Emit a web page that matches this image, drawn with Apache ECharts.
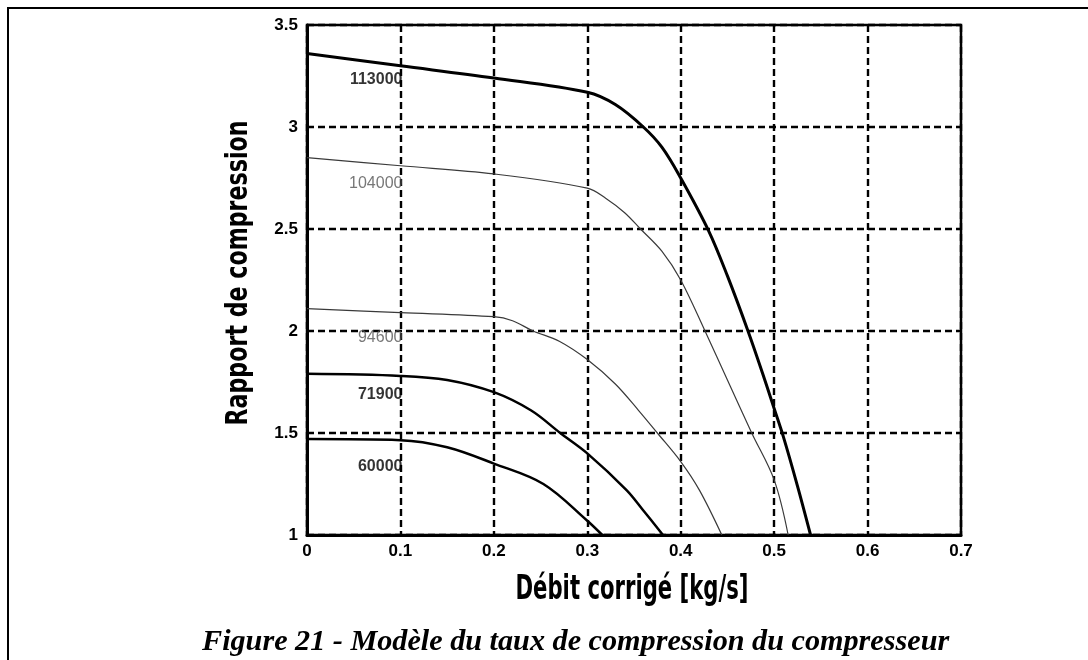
<!DOCTYPE html>
<html>
<head>
<meta charset="utf-8">
<script src="https://cdn.jsdelivr.net/npm/echarts@6/dist/echarts.min.js"></script>
<style>
html,body{margin:0;padding:0;background:#fff;}
#chart{width:1088px;height:660px;}
</style>
</head>
<body>
<div id="chart"></div>
<script>
// ---- data ----
const xTicks = ['0','0.1','0.2','0.3','0.4','0.5','0.6','0.7'];
const yTicks = ['1','1.5','2','2.5','3','3.5'];
const speedNames = ['113000','104000','94600','71900','60000'];
const curve113000 = [[0,3.36],[0.1,3.30],[0.2,3.24],[0.3,3.17],[0.33,3.11],[0.36,3.0],[0.38,2.90],[0.40,2.75],[0.43,2.49],[0.45,2.27],[0.472,2.0],[0.49,1.76],[0.5,1.62],[0.51,1.48],[0.525,1.24],[0.539,1.0]];
const curve104000 = [[0,2.85],[0.1,2.81],[0.2,2.77],[0.3,2.70],[0.32,2.65],[0.34,2.58],[0.357,2.5],[0.38,2.39],[0.4,2.25],[0.426,2.0],[0.45,1.76],[0.476,1.5],[0.5,1.27],[0.515,1.0]];
const curve94600 = [[0,2.11],[0.1,2.09],[0.2,2.07],[0.22,2.05],[0.242,2.0],[0.27,1.95],[0.3,1.86],[0.33,1.74],[0.355,1.61],[0.375,1.5],[0.4,1.36],[0.42,1.22],[0.444,1.0]];
const curve71900 = [[0,1.79],[0.1,1.78],[0.15,1.76],[0.2,1.70],[0.24,1.61],[0.271,1.5],[0.3,1.40],[0.342,1.22],[0.36,1.12],[0.381,1.0]];
const curve60000 = [[0,1.47],[0.1,1.465],[0.15,1.43],[0.2,1.35],[0.253,1.25],[0.3,1.07],[0.316,1.0]];
const labelX = [0.1,0.1,0.1,0.1,0.1];
const labelY = [3.23,2.725,1.97,1.686,1.333];
const xTitle = 'Débit corrigé [kg/s]';
const yTitle = 'Rapport de compression';
const caption = 'Figure 21 - Modèle du taux de compression du compresseur';

// ---- helpers ----
const ctx = document.createElement('canvas').getContext('2d');
function measure(text, font){ ctx.font = font; return ctx.measureText(text).width; }
const titleFamily = '"Liberation Sans Narrow","DejaVu Sans Condensed","Liberation Sans",sans-serif';
const xTitleFont = 'bold 34px ' + titleFamily;
const yTitleFont = 'bold 31px ' + titleFamily;
const xTitleScale = 233 / measure(xTitle, xTitleFont);
const yTitleScale = 305 / measure(yTitle, yTitleFont);
const capFamily = '"Liberation Serif","Times New Roman",serif';
const capSize = 30 * 748 / measure(caption, 'italic bold 30px ' + capFamily);

const styles = [
  {color:'#000', width:3},
  {color:'#3a3a3a', width:1.2},
  {color:'#3a3a3a', width:1.2},
  {color:'#000', width:2.5},
  {color:'#000', width:2.5}
];
const curves = [curve113000, curve104000, curve94600, curve71900, curve60000];
const labelStyles = [
  {color:'#000', fontWeight:'bold', fontSize:16},
  {color:'#555', fontWeight:'normal', fontSize:16},
  {color:'#555', fontWeight:'normal', fontSize:16},
  {color:'#000', fontWeight:'bold', fontSize:16},
  {color:'#000', fontWeight:'bold', fontSize:16}
];

const series = curves.map((c, i) => ({
  name: speedNames[i],
  type: 'line',
  data: c,
  showSymbol: false,
  smooth: 0.35,
  lineStyle: styles[i],
  silent: true,
  z: 5
}));
series.push({
  type: 'scatter',
  symbolSize: 0,
  data: labelX.map((x, i) => ({value:[x, labelY[i]], name: speedNames[i],
    label: Object.assign({show:true, position:'left', distance:-2, formatter:'{b}',
      fontFamily:'"Liberation Sans",Arial,sans-serif'}, labelStyles[i])})),
  silent: true,
  z: 6
});

const chart = echarts.init(document.getElementById('chart'), null, {renderer:'canvas'});
chart.setOption({
  backgroundColor: '#fff',
  animation: false,
  grid: {left:307, right:127, top:25, bottom:125, show:true, borderColor:'#000', borderWidth:2.5, backgroundColor:'transparent'},
  xAxis: {
    type:'value', min:0, max:0.7, interval:0.1,
    axisLine:{show:true, onZero:false, lineStyle:{color:'#000', width:3}},
    axisTick:{show:false},
    axisLabel:{color:'#000', fontSize:17, fontWeight:'bold', fontFamily:'"Liberation Sans",Arial,sans-serif', margin:8,
      formatter: v => xTicks[Math.round(v*10)]},
    splitLine:{show:true, lineStyle:{color:'#000', width:2.4, type:[7,4]}}
  },
  yAxis: {
    type:'value', min:1, max:3.5, interval:0.5,
    axisLine:{show:true, onZero:false, lineStyle:{color:'#000', width:3}},
    axisTick:{show:false},
    axisLabel:{color:'#000', fontSize:17, fontWeight:'bold', fontFamily:'"Liberation Sans",Arial,sans-serif', margin:9,
      formatter: v => yTicks[Math.round((v-1)*2)]},
    splitLine:{show:true, lineStyle:{color:'#000', width:2.4, type:[7,4]}}
  },
  series: series,
  graphic: [
    {type:'polyline', shape:{points:[[8,660],[8,8],[1088,8]]}, style:{stroke:'#000', lineWidth:2, fill:null}, silent:true},
    {type:'text', x:632, y:590, scaleX:xTitleScale,
      style:{text:xTitle, font:xTitleFont, fill:'#000', textAlign:'center', textVerticalAlign:'middle'}},
    {type:'text', x:239, y:273, rotation:Math.PI/2, scaleX:yTitleScale,
      style:{text:yTitle, font:yTitleFont, fill:'#000', textAlign:'center', textVerticalAlign:'middle'}},
    {type:'text', x:202, y:642,
      style:{text:caption, font:'italic bold ' + capSize.toFixed(1) + 'px ' + capFamily, fill:'#000', textAlign:'left', textVerticalAlign:'middle'}}
  ]
});
</script>
</body>
</html>
